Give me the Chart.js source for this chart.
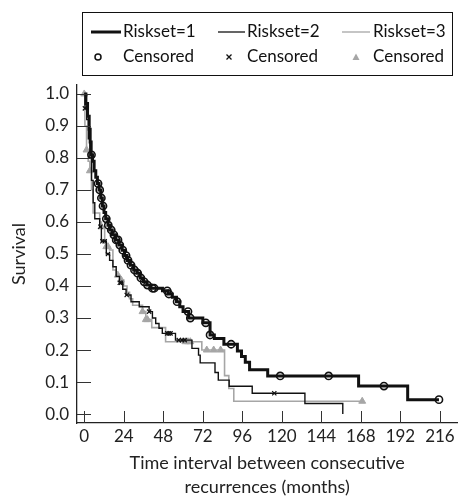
<!DOCTYPE html>
<html>
<head>
<meta charset="utf-8">
<script src="https://cdn.jsdelivr.net/npm/chart.js@4.4.1/dist/chart.umd.min.js"></script>
<style>
  html, body { margin: 0; padding: 0; background: #fff; }
  #wrap { width: 463px; height: 498px; }
</style>
</head>
<body>
<div id="wrap"><canvas id="km"></canvas></div>
<script>
  /* ── Data (months, survival) ── */
  const xTicks = [0, 24, 48, 72, 96, 120, 144, 168, 192, 216];
  const yTicks = [0, 0.1, 0.2, 0.3, 0.4, 0.5, 0.6, 0.7, 0.8, 0.9, 1.0];
  const seriesLabels = ['Riskset=1', 'Riskset=2', 'Riskset=3'];
  const censorLabel = 'Censored';

  const risk1 = [[0,1.0],[1,0.97],[2,0.93],[3,0.89],[3.6,0.85],[4.2,0.81],[5,0.79],[6,0.76],[7,0.74],
    [8,0.72],[9,0.70],[10,0.675],[11,0.65],[12,0.63],[13,0.61],[14.4,0.59],[15.5,0.575],[17,0.56],
    [19,0.544],[21,0.528],[23,0.512],[24.5,0.495],[26,0.48],[28,0.465],[30,0.45],[32,0.44],[34,0.425],
    [36,0.413],[38,0.403],[40.5,0.393],[47.5,0.385],[51,0.375],[53.5,0.365],[56,0.351],[58,0.335],
    [60,0.32],[63.4,0.30],[72,0.285],[76.4,0.247],[79,0.236],[84.8,0.218],[93,0.197],[95.5,0.18],
    [97.8,0.162],[100.4,0.138],[111.4,0.119],[166.6,0.0875],[196.4,0.045],[215.4,0.045]];
  const censor1 = [[4.4,0.81],[8.4,0.72],[9.4,0.70],[10.4,0.675],[11.4,0.65],[13.4,0.61],[14.6,0.59],
    [16.4,0.575],[18,0.56],[19.4,0.544],[20.5,0.544],[21.6,0.528],[23.4,0.512],[25.4,0.495],[26.6,0.48],
    [28.4,0.465],[30.5,0.45],[32.4,0.44],[34.4,0.425],[36.4,0.413],[38.4,0.403],[41.4,0.393],[42.5,0.393],
    [50.4,0.385],[51.4,0.375],[56.4,0.351],[63,0.32],[64.4,0.30],[73.8,0.285],[76.4,0.247],[89.2,0.218],
    [119,0.119],[148.4,0.119],[182,0.0875],[215.4,0.045]];

  const risk2 = [[0,1.0],[0.5,0.955],[1.5,0.92],[2.5,0.86],[3.4,0.80],[4.4,0.73],[5.4,0.66],[6.4,0.61],
    [9.4,0.585],[10.4,0.54],[13.4,0.50],[15.4,0.48],[17.4,0.46],[19.4,0.43],[21.4,0.41],[23.4,0.39],
    [25.4,0.372],[28.4,0.351],[33.4,0.335],[39.4,0.32],[41.4,0.30],[43.4,0.283],[45.4,0.268],[47.4,0.252],
    [55.4,0.231],[65.4,0.205],[69.4,0.184],[70.4,0.16],[79.4,0.13],[81.4,0.106],[88,0.087],[102,0.065],
    [134,0.033],[157,0.0]];
  const censor2 = [[0.4,0.955],[9.8,0.585],[11,0.54],[12.4,0.54],[14.4,0.50],[21.6,0.41],[22.4,0.41],
    [25.8,0.372],[39.4,0.32],[50.4,0.252],[51.4,0.252],[52.4,0.252],[57.4,0.231],[59.4,0.231],[61,0.231],
    [115.4,0.065]];

  const risk3 = [[0,1.0],[0.4,0.9],[1.4,0.825],[2.4,0.79],[3.4,0.76],[4.4,0.70],[5.4,0.628],[9.4,0.60],
    [10.4,0.585],[12.4,0.544],[13.4,0.523],[15.4,0.5125],[17.4,0.45],[19.4,0.434],[21.4,0.419],[24,0.40],
    [26,0.38],[27.5,0.36],[29.4,0.34],[35.4,0.32],[37.4,0.295],[41,0.27],[49.4,0.226],[71.4,0.2],
    [85.2,0.12],[87.8,0.08],[90.8,0.04],[169,0.04]];
  const censor3 = [[0,1.0],[1.4,0.825],[3.4,0.76],[10.4,0.585],[13.4,0.523],[14.4,0.523],[20.4,0.434],
    [22.4,0.419],[35.4,0.32],[37.4,0.295],[38.4,0.295],[61.4,0.226],[63,0.226],[64.4,0.226],[74.4,0.2],
    [78.6,0.2],[82.8,0.2],[168.8,0.04]];

  const BLACK = '#111';
  const GREY = '#a6a6a6';
  const FONT = 'Lato, "Noto Sans", sans-serif';

  const toXY = arr => arr.map(p => ({ x: p[0], y: p[1] }));

  /* ── Plugins: inward ticks + boxed legend ── */
  const innerTicks = {
    id: 'innerTicks',
    afterDraw(chart) {
      const { ctx, chartArea: a, scales: { x, y } } = chart;
      ctx.save();
      ctx.strokeStyle = '#333';
      ctx.lineWidth = 1;
      ctx.beginPath();
      yTicks.forEach(v => {
        const py = Math.round(y.getPixelForValue(v)) + 0.5;
        ctx.moveTo(a.left, py); ctx.lineTo(a.left + 14, py);
      });
      xTicks.forEach(v => {
        const px = Math.round(x.getPixelForValue(v)) + 0.5;
        ctx.moveTo(px, a.bottom); ctx.lineTo(px, a.bottom - 12);
      });
      ctx.stroke();
      ctx.restore();
    }
  };

  const boxLegend = {
    id: 'boxLegend',
    afterDraw(chart) {
      const ctx = chart.ctx;
      ctx.save();
      ctx.strokeStyle = BLACK;
      ctx.lineWidth = 1;
      ctx.strokeRect(82.5, 12.5, 370, 63);
      ctx.font = '17px ' + FONT;
      ctx.fillStyle = BLACK;
      ctx.textBaseline = 'middle';
      const cols = [
        { l0: 91, l1: 121, tx: 123, color: BLACK, w: 3, mark: 'circle', mx: 98 },
        { l0: 218, l1: 245, tx: 247, color: BLACK, w: 1.3, mark: 'cross', mx: 229 },
        { l0: 342, l1: 370, tx: 373, color: GREY, w: 1.3, mark: 'tri', mx: 356 },
      ];
      cols.forEach((c, i) => {
        ctx.strokeStyle = c.color;
        ctx.lineWidth = c.w;
        ctx.beginPath(); ctx.moveTo(c.l0, 32); ctx.lineTo(c.l1, 32); ctx.stroke();
        ctx.fillStyle = BLACK;
        ctx.fillText(seriesLabels[i], c.tx, 32);
        ctx.fillText(censorLabel, c.tx, 57);
        drawMark(ctx, c.mark, c.mx, 57);
      });
      ctx.restore();
    }
  };

  function drawMark(ctx, kind, x, y) {
    ctx.save();
    if (kind === 'circle') {
      ctx.strokeStyle = BLACK; ctx.lineWidth = 1.5;
      ctx.beginPath(); ctx.arc(x, y, 3, 0, Math.PI * 2); ctx.stroke();
    } else if (kind === 'cross') {
      ctx.strokeStyle = BLACK; ctx.lineWidth = 1.3;
      ctx.beginPath();
      ctx.moveTo(x - 2.5, y - 2.5); ctx.lineTo(x + 2.5, y + 2.5);
      ctx.moveTo(x + 2.5, y - 2.5); ctx.lineTo(x - 2.5, y + 2.5);
      ctx.stroke();
    } else {
      ctx.fillStyle = GREY;
      ctx.beginPath(); ctx.moveTo(x, y - 3.5); ctx.lineTo(x + 3.5, y + 3); ctx.lineTo(x - 3.5, y + 3);
      ctx.closePath(); ctx.fill();
    }
    ctx.restore();
  }

  /* ── Chart ── */
  const stepLine = (data, color, width, order) => ({
    type: 'line', data: toXY(data), stepped: 'before', borderColor: color,
    borderWidth: width, pointRadius: 0, fill: false, order,
  });
  const marks = (data, style, color, fill, radius, width, order) => ({
    type: 'scatter', data: toXY(data), pointStyle: style, pointRadius: radius,
    borderColor: color, backgroundColor: fill, borderWidth: width, order,
  });

  new Chart(document.getElementById('km'), {
    type: 'line',
    data: {
      datasets: [
        marks(censor1, 'circle', BLACK, 'rgba(255,255,255,0)', 3.6, 1.6, 1),
        stepLine(risk1, BLACK, 3, 2),
        marks(censor2, 'crossRot', BLACK, BLACK, 3, 1.2, 3),
        stepLine(risk2, BLACK, 1.4, 4),
        marks(censor3, 'triangle', GREY, GREY, 4, 1, 5),
        stepLine(risk3, GREY, 1.6, 6),
      ],
    },
    options: {
      responsive: true,
      maintainAspectRatio: false,
      animation: false,
      layout: { padding: { top: 85, right: 1, left: 0, bottom: 0 } },
      plugins: { legend: { display: false }, tooltip: { enabled: false } },
      scales: {
        x: {
          type: 'linear', min: -4.4, max: 226.6,
          afterBuildTicks: s => { s.ticks = xTicks.map(v => ({ value: v })); },
          afterFit: s => { s.height = 75; },
          grid: { drawOnChartArea: false, drawTicks: false },
          border: { display: true, color: '#222', width: 1.3 },
          ticks: { color: '#222', padding: 3, font: { family: FONT, size: 17 }, maxRotation: 0, autoSkip: false },
          title: {
            display: true, text: ['Time interval between consecutive', 'recurrences (months)'],
            color: '#222', font: { family: FONT, size: 18, lineHeight: 1.38 }, padding: { top: 0, bottom: -2 },
          },
        },
        y: {
          type: 'linear', min: -0.028, max: 1.028,
          afterBuildTicks: s => { s.ticks = yTicks.map(v => ({ value: v })); },
          afterFit: s => { s.width = 77; },
          grid: { drawOnChartArea: false, drawTicks: false },
          border: { display: true, color: '#222', width: 1.3 },
          ticks: { color: '#222', padding: 8, font: { family: FONT, size: 17 }, callback: v => v.toFixed(1) },
          title: { display: true, text: 'Survival', color: '#222', font: { family: FONT, size: 18 }, padding: { top: 8, bottom: 4 } },
        },
      },
    },
    plugins: [innerTicks, boxLegend],
  });
</script>
</body>
</html>
